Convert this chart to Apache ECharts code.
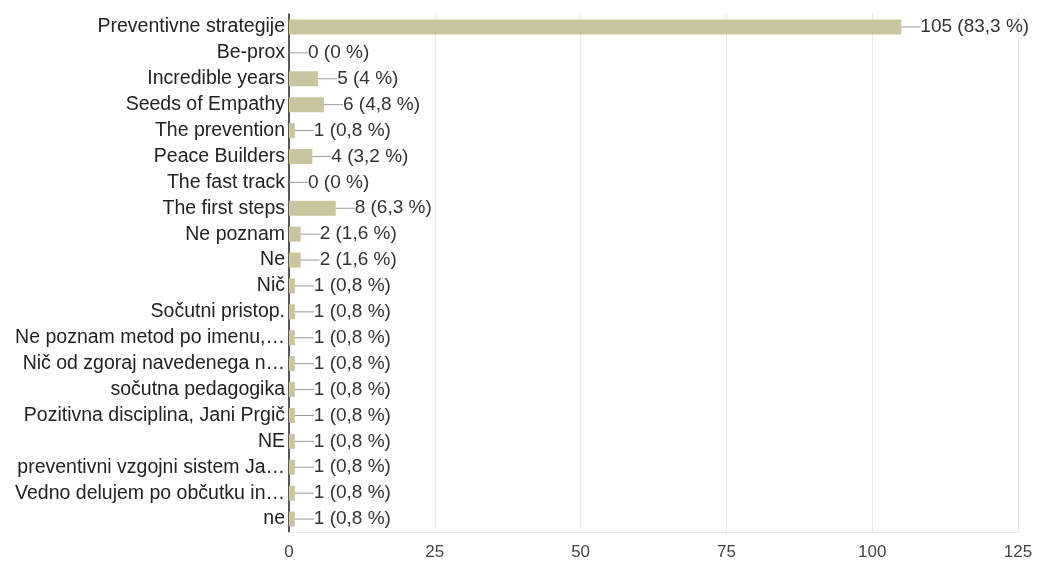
<!DOCTYPE html>
<html><head><meta charset="utf-8">
<script src="https://cdn.jsdelivr.net/npm/echarts@6/dist/echarts.min.js"></script>
<style>html,body{margin:0;padding:0;background:#fff}#c{width:1037px;height:563px}</style>
</head><body><div id="c"></div>
<script>
const categories = ["Preventivne strategije","Be-prox","Incredible years","Seeds of Empathy","The prevention","Peace Builders","The fast track","The first steps","Ne poznam","Ne","Nič","Sočutni pristop.","Ne poznam metod po imenu,…","Nič od zgoraj navedenega n…","sočutna pedagogika","Pozitivna disciplina, Jani Prgič","NE","preventivni vzgojni sistem Ja…","Vedno delujem po občutku in…","ne"];
const counts = [105,0,5,6,1,4,0,8,2,2,1,1,1,1,1,1,1,1,1,1];
const percents = ["83,3","0","4","4,8","0,8","3,2","0","6,3","1,6","1,6","0,8","0,8","0,8","0,8","0,8","0,8","0,8","0,8","0,8","0,8"];
const xTicks = [0,25,50,75,100,125];

const font = "Arial, 'Liberation Sans', sans-serif";
const chart = echarts.init(document.getElementById('c'));
chart.setOption({
  animation:false,
  grid:{left:289,right:19,top:14,bottom:31,containLabel:false},
  xAxis:{type:'value',min:xTicks[0],max:xTicks[xTicks.length-1],interval:xTicks[1]-xTicks[0],
    axisLine:{show:true,lineStyle:{color:'#e4e4e4'}},axisTick:{show:false},
    splitLine:{lineStyle:{color:'#e8e8e8'}},
    axisLabel:{color:'#444',fontSize:17,fontFamily:font,margin:12}},
  yAxis:{type:'category',data:categories,inverse:true,
    axisLine:{lineStyle:{color:'#222',width:1.5}},axisTick:{show:false},
    axisLabel:{color:'#222',fontSize:19.5,fontFamily:font,margin:4,interval:0,hideOverlap:false}},
  series:[{type:'bar',data:counts,barWidth:15,
    itemStyle:{color:'#c9c59e'},
    label:{show:true,position:'right',distance:0,
      formatter:p=>'{l|}{t|'+counts[p.dataIndex]+' ('+percents[p.dataIndex]+' %)}',
      rich:{
        l:{width:19,height:1,backgroundColor:'#9a9a9a',verticalAlign:'middle'},
        t:{color:'#333',fontSize:19,fontFamily:font,verticalAlign:'middle'}
      }}
  }]
});
</script></body></html>
